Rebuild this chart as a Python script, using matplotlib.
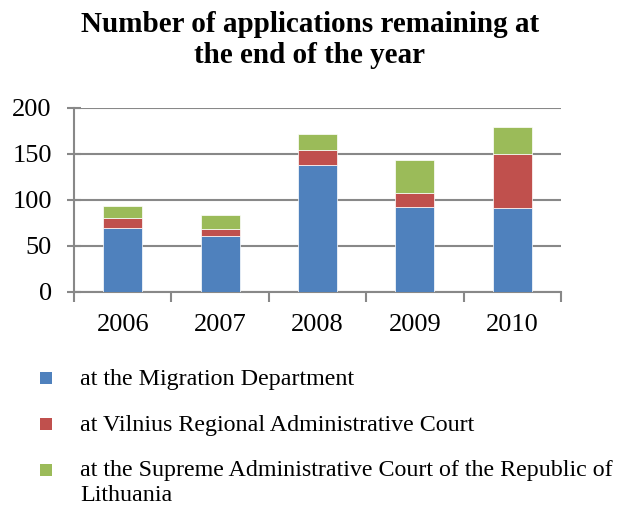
import numpy as np
import matplotlib
matplotlib.use('Agg')
import matplotlib.pyplot as plt
from matplotlib.patches import Rectangle

# data
years = ['2006', '2007', '2008', '2009', '2010']
migration = [70, 61, 138, 92, 91]
vilnius = [10, 8, 16, 16, 59]
supreme = [13, 15, 18, 35, 29]
labels = ['at the Migration Department',
          'at Vilnius Regional Administrative Court',
          'at the Supreme Administrative Court of the Republic of\nLithuania']
colors = ['#4f81bd', '#c0504d', '#9bbb59']

plt.rcParams['font.family'] = ['Liberation Serif', 'DejaVu Serif']

fig = plt.figure(figsize=(6.2, 5.09), dpi=100)
ax = fig.add_axes([74/620, 1 - 292/509, 487/620, 184/509])

x = np.arange(len(years))
b1 = np.array(migration)
b2 = b1 + np.array(vilnius)
ax.bar(x, migration, width=0.4, color=colors[0], edgecolor='white', linewidth=0.5, zorder=3)
ax.bar(x, vilnius, width=0.4, bottom=b1, color=colors[1], edgecolor='white', linewidth=0.5, zorder=3)
ax.bar(x, supreme, width=0.4, bottom=b2, color=colors[2], edgecolor='white', linewidth=0.5, zorder=3)

ax.set_xlim(-0.5, len(years) - 0.5)
ax.set_ylim(0, 200)
ax.set_yticks([0, 50, 100, 150, 200])
ax.set_xticks(x)
ax.set_xticklabels(years)
ax.set_xticks(np.arange(len(years) + 1) - 0.5, minor=True)
ax.tick_params(axis='x', which='major', length=0, labelsize=19, pad=16)
ax.tick_params(axis='x', which='minor', length=7, width=1.5, color='#888888')
ax.tick_params(axis='y', direction='inout', length=10, width=1.5, color='#888888',
               labelsize=19, pad=11)
ax.grid(axis='y', color='#888888', linewidth=1.5, zorder=0)
for s in ['top', 'right']:
    ax.spines[s].set_visible(False)
for s in ['left', 'bottom']:
    ax.spines[s].set_color('#888888')
    ax.spines[s].set_linewidth(1.5)

fig.text(0.5, 1 - 40/509, 'Number of applications remaining at\nthe end of the year',
         ha='center', va='center', fontsize=21, fontweight='bold', linespacing=1.15)

# legend
ys = [378, 424, 470]
for c, lab, yy in zip(colors, labels, ys):
    fig.patches.append(Rectangle((40/620, 1 - (yy + 6)/509), 12/620, 12/509,
                                 transform=fig.transFigure, facecolor=c, edgecolor='none'))
    if '\n' in lab:
        fig.text(80/620, 1 - (yy - 10)/509, lab, ha='left', va='top',
                 fontsize=17.3, linespacing=1.25)
    else:
        fig.text(80/620, 1 - (yy + 1)/509, lab, ha='left', va='center', fontsize=17.3)

fig.savefig('out.png', dpi=100)
